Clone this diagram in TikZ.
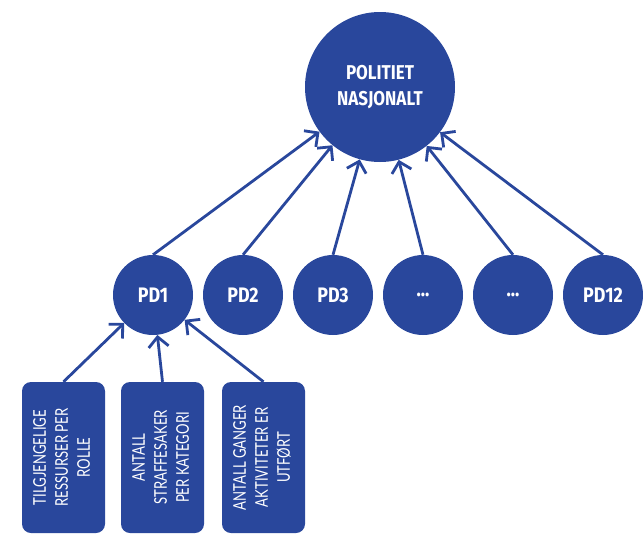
\documentclass[tikz,border=0pt]{standalone}
\usepackage{fontspec}
\usepackage{graphicx}
\setmainfont{Fira Sans}
\newfontfamily\headfont[FakeStretch=0.85]{Fira Sans}
\newfontfamily\boxfont[FakeStretch=0.75]{Lato}
\usetikzlibrary{arrows.meta}
\definecolor{polblue}{HTML}{29479C}
\begin{document}
\begin{tikzpicture}[x=1pt,y=-1pt,
  bigcirc/.style={circle,fill=polblue,minimum size=150pt,inner sep=0pt,text=white,
    font=\headfont\bfseries\fontsize{20}{26}\selectfont,align=center},
  pdcirc/.style={circle,fill=polblue,minimum size=80pt,inner sep=0pt,text=white,
    font=\headfont\bfseries\fontsize{21}{24}\selectfont},
  infobox/.style={rectangle,rounded corners=9pt,fill=polblue,minimum width=83pt,
    minimum height=151pt,inner sep=0pt,text=white,
    font=\boxfont\fontsize{17.5}{22}\selectfont},
  arr/.style={draw=polblue,line width=2.8pt,-{Straight Barb[length=10pt,width=20pt]}}
]
\useasboundingbox (0,0) rectangle (643,536);
\node[bigcirc] (top) at (380,87) {POLITIET\\NASJONALT};
\node[pdcirc] (pd1) at (153,295) {PD1};
\node[pdcirc] (pd2) at (243,295) {PD2};
\node[pdcirc] (pd3) at (333,295) {PD3};
\node[pdcirc] (pd4) at (423,295) {...};
\node[pdcirc] (pd5) at (513,295) {...};
\node[pdcirc] (pd12) at (603,295) {PD12};
\node[infobox] (b1) at (63.5,457.5) {\rotatebox{90}{\begin{tabular}{@{}c@{}}TILGJENGELIGE\\RESSURSER PER\\ROLLE\end{tabular}}};
\node[infobox] (b2) at (162.5,457.5) {\rotatebox{90}{\begin{tabular}{@{}c@{}}ANTALL\\STRAFFESAKER\\PER KATEGORI\end{tabular}}};
\node[infobox] (b3) at (263.5,457.5) {\rotatebox{90}{\begin{tabular}{@{}c@{}}ANTALL GANGER\\AKTIVITETER ER\\UTFØRT\end{tabular}}};
\foreach \n in {pd1,pd2,pd3,pd4,pd5,pd12}
  \draw[arr] (\n.north) -- (top);
\foreach \n in {b1,b2,b3}
  \draw[arr] (\n.north) -- (pd1);
\end{tikzpicture}
\end{document}
